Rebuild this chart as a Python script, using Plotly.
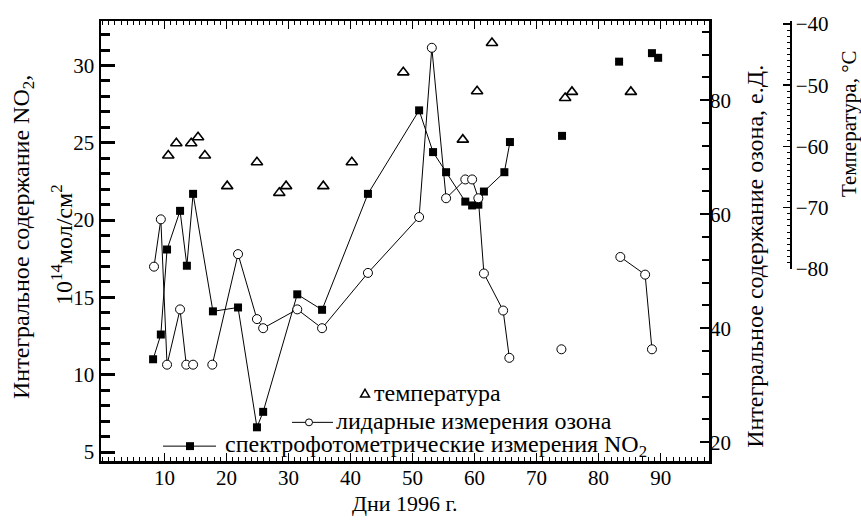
import plotly.graph_objects as go

# ---------------- data ----------------
# NO2 (spectrophotometric), left axis, 10^14 mol/cm^2
no2_days = [8.15, 9.4, 10.4, 12.5, 13.6, 14.6, 17.8, 21.85, 24.9, 25.9, 31.4, 35.4,
            42.8, 51.05, 53.3, 55.4, 58.5, 59.6, 60.6, 61.5, 64.8, 65.7]
no2_vals = [11.0, 12.6, 18.1, 20.6, 17.05, 21.7, 14.1, 14.35, 6.6, 7.6, 15.2, 14.2,
            21.7, 27.1, 24.4, 23.1, 21.2, 20.95, 21.0, 21.85, 23.1, 25.05]
no2_days_sep = [74.1, 83.3, 88.6, 89.6]
no2_vals_sep = [25.45, 30.25, 30.8, 30.5]

# ozone (lidar), right axis, D.U.  (None = gap in the line)
oz_days = [8.3, 9.4, 10.4, 12.5, 13.5, 14.6, None,
           17.7, 21.85, 24.9, 25.9, 31.4, 35.4, 42.8, 51.05, 53.1, 55.4, 58.5, 59.6, 60.6, 61.5, 64.6, 65.6, None,
           74.0, None,
           83.5, 87.5, 88.6]
oz_vals = [50.8, 59.1, 33.6, 43.3, 33.6, 33.6, None,
           33.6, 53.0, 41.6, 40.0, 43.3, 40.0, 49.7, 59.5, 89.2, 62.8, 66.1, 66.1, 62.8, 49.6, 43.1, 34.8, None,
           36.3, None,
           52.5, 49.4, 36.3]

# temperature, deg C
temp_days = [10.6, 11.9, 14.3, 15.4, 16.5, 20.1, 24.9, 28.5, 29.6, 35.6, 40.2,
             48.5, 58.1, 60.4, 62.8, 74.6, 75.7, 85.2]
temp_vals = [-61.5, -59.5, -59.5, -58.5, -61.5, -66.5, -62.6, -67.6, -66.5, -66.5, -62.6,
             -47.9, -58.9, -51.0, -43.1, -52.1, -51.1, -51.1]

x_ticks = [10, 20, 30, 40, 50, 60, 70, 80, 90]
no2_ticks = [5, 10, 15, 20, 25, 30]
oz_ticks = [20, 40, 60, 80]
temp_ticks = [-80, -70, -60, -50, -40]

legend_labels = ["температура", "лидарные измерения озона",
                 "спектрофотометрические измерения NO<sub>2</sub>"]

# ---------------- layout helpers ----------------
W, H = 861, 522
ML, MR, MT, MB = 101, 71, 17, 61
PW = W - ML - MR
PH = H - MT - MB


def px(x):
    return (x - ML) / PW


def py(y):
    return (H - MB - y) / PH


FONT = "Liberation Serif"
BLACK = "black"
FS = 21     # tick labels
FT = 24     # titles / legend

fig = go.Figure()

fig.add_trace(go.Scatter(
    x=no2_days, y=no2_vals, mode="lines+markers", yaxis="y",
    line=dict(color=BLACK, width=1),
    marker=dict(symbol="square", size=8, color=BLACK),
    showlegend=False, cliponaxis=False))
fig.add_trace(go.Scatter(
    x=no2_days_sep, y=no2_vals_sep, mode="markers", yaxis="y",
    marker=dict(symbol="square", size=8, color=BLACK),
    showlegend=False, cliponaxis=False))
fig.add_trace(go.Scatter(
    x=oz_days, y=oz_vals, mode="lines+markers", yaxis="y2", connectgaps=False,
    line=dict(color=BLACK, width=1),
    marker=dict(symbol="circle", size=9, color="white", line=dict(color=BLACK, width=1)),
    showlegend=False, cliponaxis=False))
fig.add_trace(go.Scatter(
    x=temp_days, y=temp_vals, mode="markers", yaxis="y3",
    marker=dict(symbol="triangle-up-open", size=10, color=BLACK, line=dict(color=BLACK, width=1.6)),
    showlegend=False, cliponaxis=False))

tickfont = dict(family=FONT, size=FS, color=BLACK)

fig.update_layout(
    width=W, height=H,
    margin=dict(l=ML, r=MR, t=MT, b=MB, pad=0),
    paper_bgcolor="white", plot_bgcolor="rgba(0,0,0,0)",
    font=dict(family=FONT, size=FS, color=BLACK),
    showlegend=False, hovermode=False,
    xaxis=dict(
        domain=[0, px(709)], range=[-0.25, 97.8],
        tickmode="array", tickvals=x_ticks, ticktext=[str(v) for v in x_ticks],
        ticks="inside", ticklen=8, tickwidth=1.5, tickcolor=BLACK,
        minor=dict(tickmode="linear", tick0=0, dtick=1, ticks="inside", ticklen=4, tickwidth=1, tickcolor=BLACK),
        showline=True, linewidth=2.5, linecolor=BLACK, mirror="ticks",
        showgrid=False, zeroline=False, tickfont=tickfont, ticklabelstandoff=-4,
    ),
    yaxis=dict(
        range=[4.42, 32.88],
        tickmode="array", tickvals=no2_ticks, ticktext=[str(v) for v in no2_ticks],
        ticks="inside", ticklen=14, tickwidth=3, tickcolor=BLACK,
        minor=dict(tickmode="linear", tick0=0, dtick=1, ticks="inside", ticklen=9, tickwidth=3, tickcolor=BLACK),
        showline=True, linewidth=2.5, linecolor=BLACK, mirror=True,
        showgrid=False, zeroline=False, tickfont=tickfont,
    ),
    yaxis2=dict(
        overlaying="y", side="right", anchor="x",
        range=[16.7, 93.9],
        tickmode="array", tickvals=oz_ticks, ticktext=[str(v) for v in oz_ticks],
        ticks="inside", ticklen=9, tickwidth=2, tickcolor=BLACK,
        minor=dict(tickmode="linear", tick0=0, dtick=4, ticks="inside", ticklen=7, tickwidth=2, tickcolor=BLACK),
        showline=False, showgrid=False, zeroline=False, tickfont=tickfont,
    ),
    yaxis3=dict(
        domain=[py(267), 1.0], anchor="free", position=1.0, side="right",
        range=[-80, -39.51],
        tickmode="array", tickvals=temp_ticks, ticktext=["\u2212" + str(-v) for v in temp_ticks],
        ticks="inside", ticklen=7, tickwidth=1.5, tickcolor=BLACK,
        minor=dict(tickmode="linear", tick0=0, dtick=1, ticks="inside", ticklen=3, tickwidth=1, tickcolor=BLACK),
        showline=True, linewidth=1.5, linecolor=BLACK,
        showgrid=False, zeroline=False, tickfont=tickfont,
    ),
)

ann = []


def add_text(text, x, y, size=FT, angle=0, xanchor="center", yanchor="middle"):
    ann.append(dict(text=text, x=px(x), y=py(y), xref="paper", yref="paper",
                    showarrow=False, textangle=angle, xanchor=xanchor, yanchor=yanchor,
                    borderpad=0, font=dict(family=FONT, size=size, color=BLACK)))


# axis titles
add_text("Интегральное содержание NO<sub>2</sub>,", 23, 235, angle=-90)
add_text("10<sup>14</sup>мол/см<sup>2</sup>", 62, 243, angle=-90)
add_text("Интегральное содержание озона, е.Д.", 755, 255, angle=-90)
add_text("Температура, °C", 849, 121, size=21, angle=-90)
add_text("Дни 1996 г.", 405, 504, size=22)

# legend texts
add_text(legend_labels[0], 373, 392, xanchor="left")
add_text(legend_labels[1], 335, 421, xanchor="left")
add_text(legend_labels[2], 224, 446, xanchor="left")

shapes = []


def seg(x0, x1, y):
    shapes.append(dict(type="line", xref="paper", yref="paper",
                       x0=px(x0), x1=px(x1), y0=py(y), y1=py(y),
                       line=dict(color=BLACK, width=1)))


# temperature legend marker (triangle)
tx, ty = 365, 393
shapes.append(dict(type="path", xref="paper", yref="paper",
                   path="M {a},{b} L {c},{b} L {d},{e} Z".format(
                       a=px(tx - 4.5), b=py(ty + 3.5), c=px(tx + 4.5), d=px(tx), e=py(ty - 4.5)),
                   line=dict(color=BLACK, width=1.5), fillcolor="rgba(0,0,0,0)"))
# lidar legend
seg(292, 333, 422)
shapes.append(dict(type="circle", xref="paper", yref="paper",
                   x0=px(305.5), x1=px(312.5), y0=py(425.5), y1=py(418.5),
                   line=dict(color=BLACK, width=1), fillcolor="white"))
# NO2 legend
seg(163, 216, 446)
shapes.append(dict(type="rect", xref="paper", yref="paper",
                   x0=px(186), x1=px(194), y0=py(450), y1=py(442),
                   line=dict(color=BLACK, width=0), fillcolor=BLACK))

fig.update_layout(annotations=ann, shapes=shapes)

fig.write_html("out.html", config={"displayModeBar": False, "staticPlot": True},
               post_script="document.body.style.margin='0';document.body.style.overflow='hidden';")
